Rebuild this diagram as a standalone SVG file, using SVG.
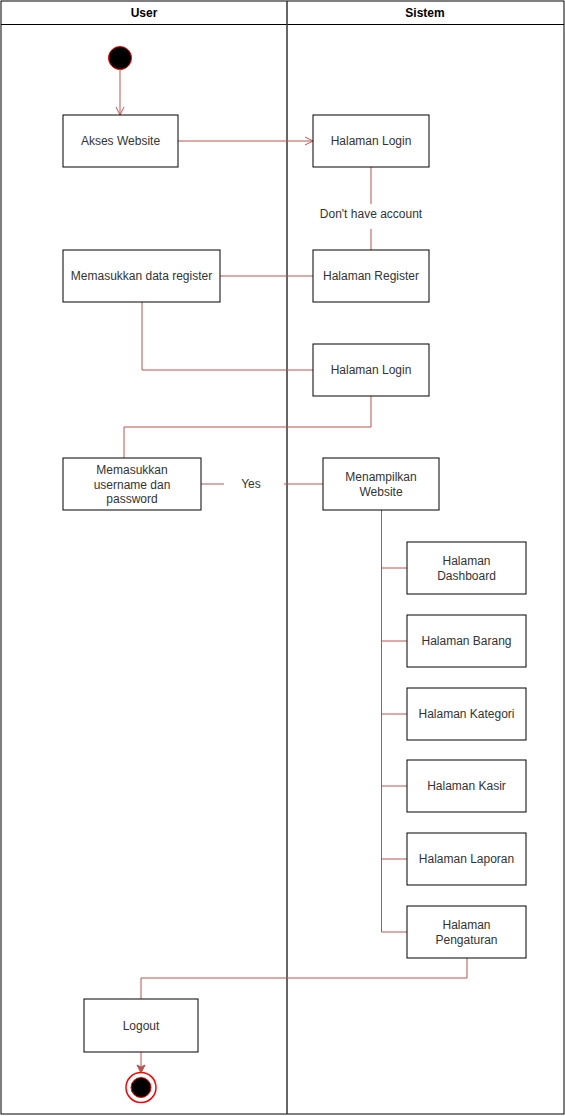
<svg xmlns="http://www.w3.org/2000/svg" width="565" height="1116" viewBox="0 0 565 1116">
<style>
.box{fill:#fff;stroke:#000;stroke-width:1}
.t{font-family:"Liberation Sans",Arial,sans-serif;font-size:12px;fill:#333;text-anchor:middle;dominant-baseline:central}
.h{font-family:"Liberation Sans",Arial,sans-serif;font-size:12px;font-weight:bold;fill:#000;text-anchor:middle;dominant-baseline:central}
.c{fill:none;stroke:#b85450;stroke-width:1}
</style>
<defs>
<marker id="open" markerWidth="10" markerHeight="10" refX="9" refY="5" orient="auto" markerUnits="userSpaceOnUse">
<path d="M1,1 L9,5 L1,9" fill="none" stroke="#b85450" stroke-width="1"/>
</marker>
<marker id="fill" markerWidth="10" markerHeight="10" refX="9" refY="5" orient="auto" markerUnits="userSpaceOnUse">
<path d="M1,1 L9,5 L1,9 L3,5 Z" fill="#b85450" stroke="#b85450" stroke-width="1"/>
</marker>
</defs>
<rect width="565" height="1116" fill="#fff"/>
<g id="lanes">
<rect x="1" y="1" width="563" height="1113" fill="none" stroke="#000" stroke-width="1"/>
<line x1="1" y1="24.5" x2="564" y2="24.5" stroke="#000"/>
<line x1="287" y1="1" x2="287" y2="1114" stroke="#333" stroke-width="1.5"/>
<text class="h" x="144" y="13">User</text>
<text class="h" x="425" y="13">Sistem</text>
</g>
<g id="connectors">
<line class="c" x1="120" y1="70" x2="120" y2="115" marker-end="url(#open)"/>
<line class="c" x1="178" y1="141" x2="313" y2="141" marker-end="url(#open)"/>
<line class="c" x1="371" y1="167" x2="371" y2="204"/>
<line class="c" x1="371" y1="229" x2="371" y2="250"/>
<line class="c" x1="313" y1="276" x2="220" y2="276"/>
<polyline class="c" points="142,302 142,370 313,370"/>
<polyline class="c" points="371,396 371,427 124,427 124,458"/>
<line class="c" x1="201" y1="484" x2="224" y2="484"/>
<line class="c" x1="284" y1="484" x2="323" y2="484"/>
<line class="c" x1="381.5" y1="510" x2="381.5" y2="932"/>
<line class="c" x1="381.5" y1="568" x2="407" y2="568"/>
<line class="c" x1="381.5" y1="641" x2="407" y2="641"/>
<line class="c" x1="381.5" y1="714" x2="407" y2="714"/>
<line class="c" x1="381.5" y1="786" x2="407" y2="786"/>
<line class="c" x1="381.5" y1="859" x2="407" y2="859"/>
<line class="c" x1="381.5" y1="932" x2="407" y2="932"/>
<polyline class="c" points="467,958 467,978 141,978 141,999"/>
<line class="c" x1="141" y1="1052" x2="141" y2="1073" marker-end="url(#fill)"/>
<text class="t" x="371" y="214">Don't have account</text>
<text class="t" x="251" y="484">Yes</text>
</g>
<g id="start"><circle cx="120" cy="58" r="11.5" fill="#000" stroke="#ff0000" stroke-width="1"/></g>
<g id="akses"><rect class="box" x="63" y="115" width="115" height="52"/><text class="t" x="120.5" y="141">Akses Website</text></g>
<g id="login1"><rect class="box" x="313" y="115" width="116" height="52"/><text class="t" x="371" y="141">Halaman Login</text></g>
<g id="dataregister"><rect class="box" x="63" y="250" width="157" height="52"/><text class="t" x="141.5" y="276">Memasukkan data register</text></g>
<g id="register"><rect class="box" x="313" y="250" width="116" height="52"/><text class="t" x="371" y="276">Halaman Register</text></g>
<g id="login2"><rect class="box" x="313" y="344" width="116" height="52"/><text class="t" x="371" y="370">Halaman Login</text></g>
<g id="userpass"><rect class="box" x="63" y="458" width="138" height="52"/><text class="t" x="132" y="470">Memasukkan</text><text class="t" x="132" y="485">username dan</text><text class="t" x="132" y="499">password</text></g>
<g id="menampilkan"><rect class="box" x="323" y="458" width="116" height="52"/><text class="t" x="381" y="477">Menampilkan</text><text class="t" x="381" y="492">Website</text></g>
<g id="dashboard"><rect class="box" x="407" y="542" width="119" height="52"/><text class="t" x="466.5" y="561">Halaman</text><text class="t" x="466.5" y="576">Dashboard</text></g>
<g id="barang"><rect class="box" x="407" y="615" width="119" height="52"/><text class="t" x="466.5" y="641">Halaman Barang</text></g>
<g id="kategori"><rect class="box" x="407" y="688" width="119" height="52"/><text class="t" x="466.5" y="714">Halaman Kategori</text></g>
<g id="kasir"><rect class="box" x="407" y="760" width="119" height="52"/><text class="t" x="466.5" y="786">Halaman Kasir</text></g>
<g id="laporan"><rect class="box" x="407" y="833" width="119" height="52"/><text class="t" x="466.5" y="859">Halaman Laporan</text></g>
<g id="pengaturan"><rect class="box" x="407" y="906" width="119" height="52"/><text class="t" x="466.5" y="925">Halaman</text><text class="t" x="466.5" y="940">Pengaturan</text></g>
<g id="logout"><rect class="box" x="84" y="999" width="114" height="53"/><text class="t" x="141" y="1025.5">Logout</text></g>
<g id="end"><circle cx="141" cy="1087.5" r="15" fill="#fff" stroke="#ff0000" stroke-width="1.5"/><circle cx="141" cy="1087.5" r="10" fill="#000" stroke="#ff0000" stroke-width="1"/></g>
</svg>
